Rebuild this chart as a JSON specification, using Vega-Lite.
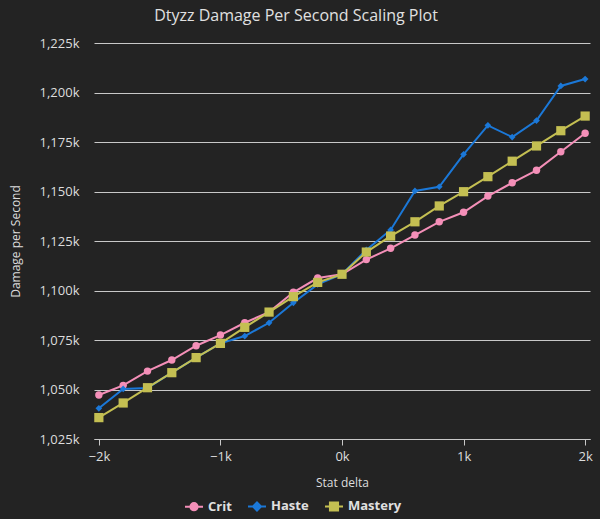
{
  "$schema": "https://vega.github.io/schema/vega-lite/v6.json",
  "autosize": "none",
  "width": 496,
  "height": 396,
  "padding": {"left": 94, "top": 43, "right": 10, "bottom": 80},
  "background": "#232323",
  "title": {
    "text": "Dtyzz Damage Per Second Scaling Plot",
    "anchor": "middle",
    "frame": "group",
    "dx": -46,
    "dy": 15,
    "baseline": "bottom",
    "offset": 12,
    "font": "Open Sans",
    "fontSize": 16,
    "fontWeight": "normal",
    "color": "#e0e0e0"
  },
  "config": {
    "view": {"stroke": null},
    "font": "Open Sans"
  },
  "data": {
    "values": [
      {"delta": -2000, "stat": "Crit", "dps": 1047200},
      {"delta": -1800, "stat": "Crit", "dps": 1052100},
      {"delta": -1600, "stat": "Crit", "dps": 1059300},
      {"delta": -1400, "stat": "Crit", "dps": 1064900},
      {"delta": -1200, "stat": "Crit", "dps": 1072100},
      {"delta": -1000, "stat": "Crit", "dps": 1077500},
      {"delta": -800, "stat": "Crit", "dps": 1083700},
      {"delta": -600, "stat": "Crit", "dps": 1089100},
      {"delta": -400, "stat": "Crit", "dps": 1099100},
      {"delta": -200, "stat": "Crit", "dps": 1106300},
      {"delta": 0, "stat": "Crit", "dps": 1108200},
      {"delta": 200, "stat": "Crit", "dps": 1115600},
      {"delta": 400, "stat": "Crit", "dps": 1121300},
      {"delta": 600, "stat": "Crit", "dps": 1128000},
      {"delta": 800, "stat": "Crit", "dps": 1134700},
      {"delta": 1000, "stat": "Crit", "dps": 1139500},
      {"delta": 1200, "stat": "Crit", "dps": 1147700},
      {"delta": 1400, "stat": "Crit", "dps": 1154400},
      {"delta": 1600, "stat": "Crit", "dps": 1160700},
      {"delta": 1800, "stat": "Crit", "dps": 1170100},
      {"delta": 2000, "stat": "Crit", "dps": 1179400},
      {"delta": -2000, "stat": "Haste", "dps": 1040500},
      {"delta": -1800, "stat": "Haste", "dps": 1050300},
      {"delta": -1600, "stat": "Haste", "dps": 1050800},
      {"delta": -1400, "stat": "Haste", "dps": 1058500},
      {"delta": -1200, "stat": "Haste", "dps": 1066100},
      {"delta": -1000, "stat": "Haste", "dps": 1073300},
      {"delta": -800, "stat": "Haste", "dps": 1077000},
      {"delta": -600, "stat": "Haste", "dps": 1083700},
      {"delta": -400, "stat": "Haste", "dps": 1093800},
      {"delta": -200, "stat": "Haste", "dps": 1103100},
      {"delta": 0, "stat": "Haste", "dps": 1108200},
      {"delta": 200, "stat": "Haste", "dps": 1120500},
      {"delta": 400, "stat": "Haste", "dps": 1130600},
      {"delta": 600, "stat": "Haste", "dps": 1150300},
      {"delta": 800, "stat": "Haste", "dps": 1152400},
      {"delta": 1000, "stat": "Haste", "dps": 1168800},
      {"delta": 1200, "stat": "Haste", "dps": 1183400},
      {"delta": 1400, "stat": "Haste", "dps": 1177500},
      {"delta": 1600, "stat": "Haste", "dps": 1185800},
      {"delta": 1800, "stat": "Haste", "dps": 1203300},
      {"delta": 2000, "stat": "Haste", "dps": 1206800},
      {"delta": -2000, "stat": "Mastery", "dps": 1035800},
      {"delta": -1800, "stat": "Mastery", "dps": 1043200},
      {"delta": -1600, "stat": "Mastery", "dps": 1050900},
      {"delta": -1400, "stat": "Mastery", "dps": 1058500},
      {"delta": -1200, "stat": "Mastery", "dps": 1066100},
      {"delta": -1000, "stat": "Mastery", "dps": 1073300},
      {"delta": -800, "stat": "Mastery", "dps": 1081400},
      {"delta": -600, "stat": "Mastery", "dps": 1089100},
      {"delta": -400, "stat": "Mastery", "dps": 1096900},
      {"delta": -200, "stat": "Mastery", "dps": 1104100},
      {"delta": 0, "stat": "Mastery", "dps": 1108200},
      {"delta": 200, "stat": "Mastery", "dps": 1119400},
      {"delta": 400, "stat": "Mastery", "dps": 1127500},
      {"delta": 600, "stat": "Mastery", "dps": 1134700},
      {"delta": 800, "stat": "Mastery", "dps": 1142700},
      {"delta": 1000, "stat": "Mastery", "dps": 1149900},
      {"delta": 1200, "stat": "Mastery", "dps": 1157500},
      {"delta": 1400, "stat": "Mastery", "dps": 1165300},
      {"delta": 1600, "stat": "Mastery", "dps": 1173000},
      {"delta": 1800, "stat": "Mastery", "dps": 1180700},
      {"delta": 2000, "stat": "Mastery", "dps": 1188100}
    ]
  },
  "encoding": {
    "x": {
      "field": "delta",
      "type": "quantitative",
      "scale": {"domain": [-2040, 2040], "nice": false, "zero": false},
      "axis": {
        "title": "Stat delta",
        "values": [-2000, -1000, 0, 1000, 2000],
        "labelExpr": "format(datum.value / 1000, 'd') + 'k'",
        "grid": false,
        "domainColor": "#c8c8c8",
        "tickColor": "#c8c8c8",
        "tickSize": 6,
        "labelPadding": 5,
        "labelFontSize": 13,
        "labelColor": "#dddddd",
        "labelFont": "Open Sans",
        "titleFont": "Open Sans",
        "titleFontSize": 12,
        "titleFontWeight": "normal",
        "titleColor": "#dddddd",
        "titlePadding": 14
      }
    },
    "y": {
      "field": "dps",
      "type": "quantitative",
      "scale": {"domain": [1025000, 1225000], "nice": false, "zero": false},
      "axis": {
        "title": "Damage per Second",
        "values": [1025000, 1050000, 1075000, 1100000, 1125000, 1150000, 1175000, 1200000, 1225000],
        "labelExpr": "format(datum.value / 1000, ',') + 'k'",
        "domain": false,
        "ticks": false,
        "grid": true,
        "gridColor": "#c8c8c8",
        "gridWidth": 1,
        "labelPadding": 15,
        "labelFontSize": 13,
        "labelColor": "#dddddd",
        "labelFont": "Open Sans",
        "titleFont": "Open Sans",
        "titleFontSize": 12,
        "titleFontWeight": "normal",
        "titleColor": "#dddddd",
        "titleX": -79,
        "titleBaseline": "middle"
      }
    },
    "color": {
      "field": "stat",
      "type": "nominal",
      "scale": {"domain": ["Crit", "Haste", "Mastery"], "range": ["#f48fb8", "#1b78d8", "#c4bf52"]},
      "legend": {
        "title": null,
        "orient": "none",
        "direction": "horizontal",
        "legendX": 90,
        "legendY": 453,
        "symbolSize": 324,
        "columnPadding": 12,
        "labelFont": "Open Sans",
        "labelFontSize": 13,
        "labelFontWeight": "bold",
        "labelColor": "#e0e0e0",
        "encode": {
          "symbols": {
            "update": {
              "shape": {"signal": "datum.value === 'Crit' ? 'M-1,0L1,0M-0.4,0A0.4,0.4 0 1,0 0.4,0A0.4,0.4 0 1,0 -0.4,0Z' : datum.value === 'Haste' ? 'M-1,0L1,0M0,-0.45L0.45,0L0,0.45L-0.45,0Z' : 'M-1,0L1,0M-0.45,-0.45L0.45,-0.45L0.45,0.45L-0.45,0.45Z'"},
              "fill": {"scale": "color", "field": "value"},
              "stroke": {"scale": "color", "field": "value"},
              "strokeWidth": {"value": 2},
              "fillOpacity": {"value": 1},
              "opacity": {"value": 1}
            }
          }
        }
      }
    }
  },
  "layer": [
    {
      "mark": {"type": "line", "strokeWidth": 2}
    },
    {
      "transform": [{"filter": "datum.stat === 'Crit'"}],
      "mark": {"type": "point", "filled": true, "opacity": 1, "shape": "circle", "size": 55}
    },
    {
      "transform": [{"filter": "datum.stat === 'Haste'"}],
      "mark": {"type": "point", "filled": true, "opacity": 1, "shape": "diamond", "size": 45}
    },
    {
      "transform": [{"filter": "datum.stat === 'Mastery'"}],
      "mark": {"type": "point", "filled": true, "opacity": 1, "shape": "square", "size": 85}
    }
  ]
}
